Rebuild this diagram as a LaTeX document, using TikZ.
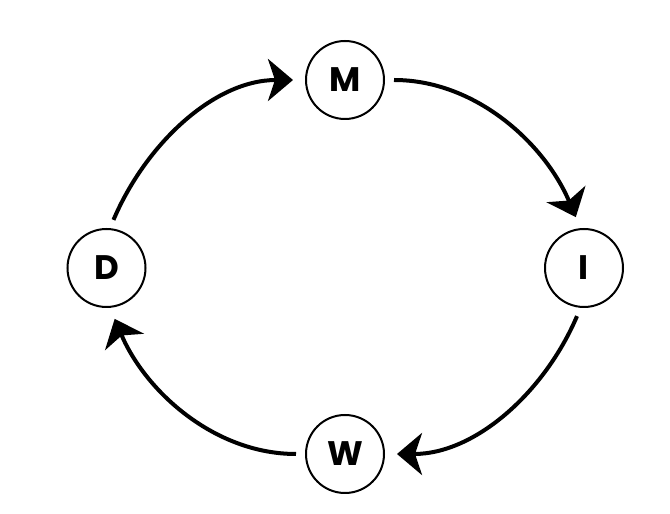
\documentclass[tikz,border=0pt]{standalone}
\usepackage{fontspec}
\setmainfont{Poppins}
\usetikzlibrary{arrows.meta}
\begin{document}
\begin{tikzpicture}[x=1pt,y=1pt,
  stagenode/.style={circle,draw,line width=2pt,minimum size=78pt,inner sep=0pt,
    font=\fontsize{34}{34}\selectfont\bfseries},
  flow/.style={line width=4pt,-{Stealth[length=25pt,width=42pt,inset=7pt]},
    shorten <=9pt,shorten >=12pt,looseness=0.95}]
\useasboundingbox (0,0) rectangle (670,514);
\node[stagenode] (M) at (345,434) {M};
\node[stagenode] (I) at (584,246) {I};
\node[stagenode] (W) at (345,60) {W};
\node[stagenode] (D) at (106.5,246) {D};
\draw[flow] (M.east) to[out=0,in=113] (I.95);
\draw[flow] (I.265) to[out=247,in=0] (W.east);
\draw[flow] (W.west) to[out=180,in=293] (D.275);
\draw[flow] (D.85) to[out=67,in=180] (M.west);
\end{tikzpicture}
\end{document}
